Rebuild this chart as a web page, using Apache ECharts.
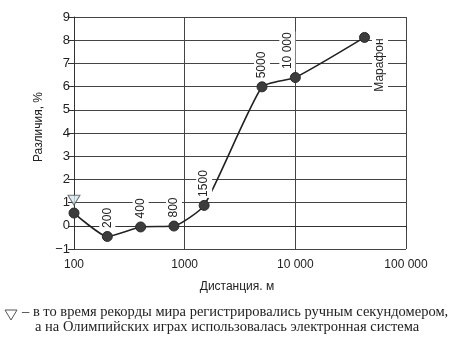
<!DOCTYPE html>
<html>
<head>
<meta charset="utf-8">
<script src="https://cdn.jsdelivr.net/npm/echarts@6/dist/echarts.min.js"></script>
<style>html,body{margin:0;padding:0;background:#fff;}#c{width:454px;height:356px;}</style>
</head>
<body>
<div id="c"></div>
<script>
// Data
var distances = [100, 200, 400, 800, 1500, 5000, 10000, 42195];
var differences = [0.55, -0.46, -0.05, -0.01, 0.88, 5.99, 6.39, 8.12];
var pointLabels = ['', '200', '400', '800', '1500', '5000', '10 000', 'Марафон'];
var handTimedMark = [[100, 1.1]];
var xTicks = [100, 1000, 10000, 100000];
var yTicks = [-1, 0, 1, 2, 3, 4, 5, 6, 7, 8, 9];

var chart = echarts.init(document.getElementById('c'), null, {renderer: 'canvas'});
var sans = 'Liberation Sans, Arial, sans-serif';
var serif = 'Liberation Serif, Times New Roman, serif';

function fmtNum(v) {
  var s = String(Math.round(v));
  if (s.replace('-', '').length >= 5) s = s.replace(/\B(?=(\d{3})+(?!\d))/g, ' ');
  return s.replace('-', '\u2212');
}

var seriesData = distances.map(function (d, i) {
  var item = {value: [d, differences[i]]};
  var lab = pointLabels[i];
  if (!lab) {
    item.label = {show: false};
  } else if (lab === 'Марафон') {
    item.label = {show: true, formatter: lab, rotate: 90, position: 'right', distance: 10, offset: [0, 0], align: 'right', verticalAlign: 'middle'};
  } else if (lab === '10 000') {
    item.label = {show: true, formatter: lab, rotate: 90, position: 'top', distance: 2, offset: [0, -8], align: 'left', verticalAlign: 'middle'};
  } else {
    item.label = {show: true, formatter: lab, rotate: 90, position: 'top', distance: 2, align: 'left', verticalAlign: 'middle'};
  }
  return item;
});

chart.setOption({
  backgroundColor: '#fff',
  animation: false,
  grid: {left: 74, right: 48, top: 17, bottom: 107},
  xAxis: {
    type: 'log', logBase: 10, min: 100, max: 100000,
    name: 'Дистанция. м', nameLocation: 'middle', nameGap: 32,
    nameTextStyle: {color: '#222', fontFamily: sans, fontSize: 12, padding: [0, 6, 0, 0]},
    axisLine: {show: true, lineStyle: {color: '#333', width: 1}},
    axisTick: {show: true, length: 4, lineStyle: {color: '#333'}},
    axisLabel: {color: '#222', fontFamily: sans, fontSize: 12, margin: 10, formatter: function (v) { return fmtNum(v); }},
    splitLine: {show: true, lineStyle: {color: '#444', width: 1}},
    minorTick: {show: false}
  },
  yAxis: {
    type: 'value', min: yTicks[0], max: yTicks[yTicks.length - 1], interval: 1,
    name: 'Различия, %', nameLocation: 'middle', nameGap: 28, nameRotate: 90,
    nameTextStyle: {color: '#222', fontFamily: sans, fontSize: 12, padding: [0, 0, 0, 12]},
    axisLine: {show: true, lineStyle: {color: '#333', width: 1}},
    axisTick: {show: true, length: 6, lineStyle: {color: '#333'}},
    axisLabel: {color: '#222', fontFamily: sans, fontSize: 13, margin: 4, formatter: function (v) { return fmtNum(v); }},
    splitLine: {show: true, lineStyle: {color: '#444', width: 1}}
  },
  series: [
    {
      type: 'line',
      data: seriesData,
      smooth: 0.18,
      symbol: 'circle',
      symbolSize: 10,
      itemStyle: {color: '#3c3c3c', borderColor: '#2a2a2a', borderWidth: 1},
      lineStyle: {color: '#222', width: 1.6},
      label: {color: '#222', fontFamily: sans, fontSize: 12, backgroundColor: '#fff', padding: [2, 1]},
      z: 3
    },
    {
      type: 'scatter',
      data: handTimedMark,
      symbol: 'triangle',
      symbolRotate: 180,
      symbolSize: [12, 10],
      itemStyle: {color: '#d6e7f1', borderColor: '#555', borderWidth: 1},
      z: 4
    }
  ],
  graphic: [
    {type: 'polygon', shape: {points: [[5, 310], [17, 310], [11, 320]]}, style: {fill: 'none', stroke: '#555', lineWidth: 1}},
    {type: 'text', left: 22, top: 305, style: {text: '– в то время рекорды мира регистрировались ручным секундомером,', fill: '#222', font: '14.5px ' + serif}},
    {type: 'text', left: 35, top: 320, style: {text: 'а на Олимпийских играх использовалась электронная система', fill: '#222', font: '14.5px ' + serif}}
  ]
});
</script>
</body>
</html>
